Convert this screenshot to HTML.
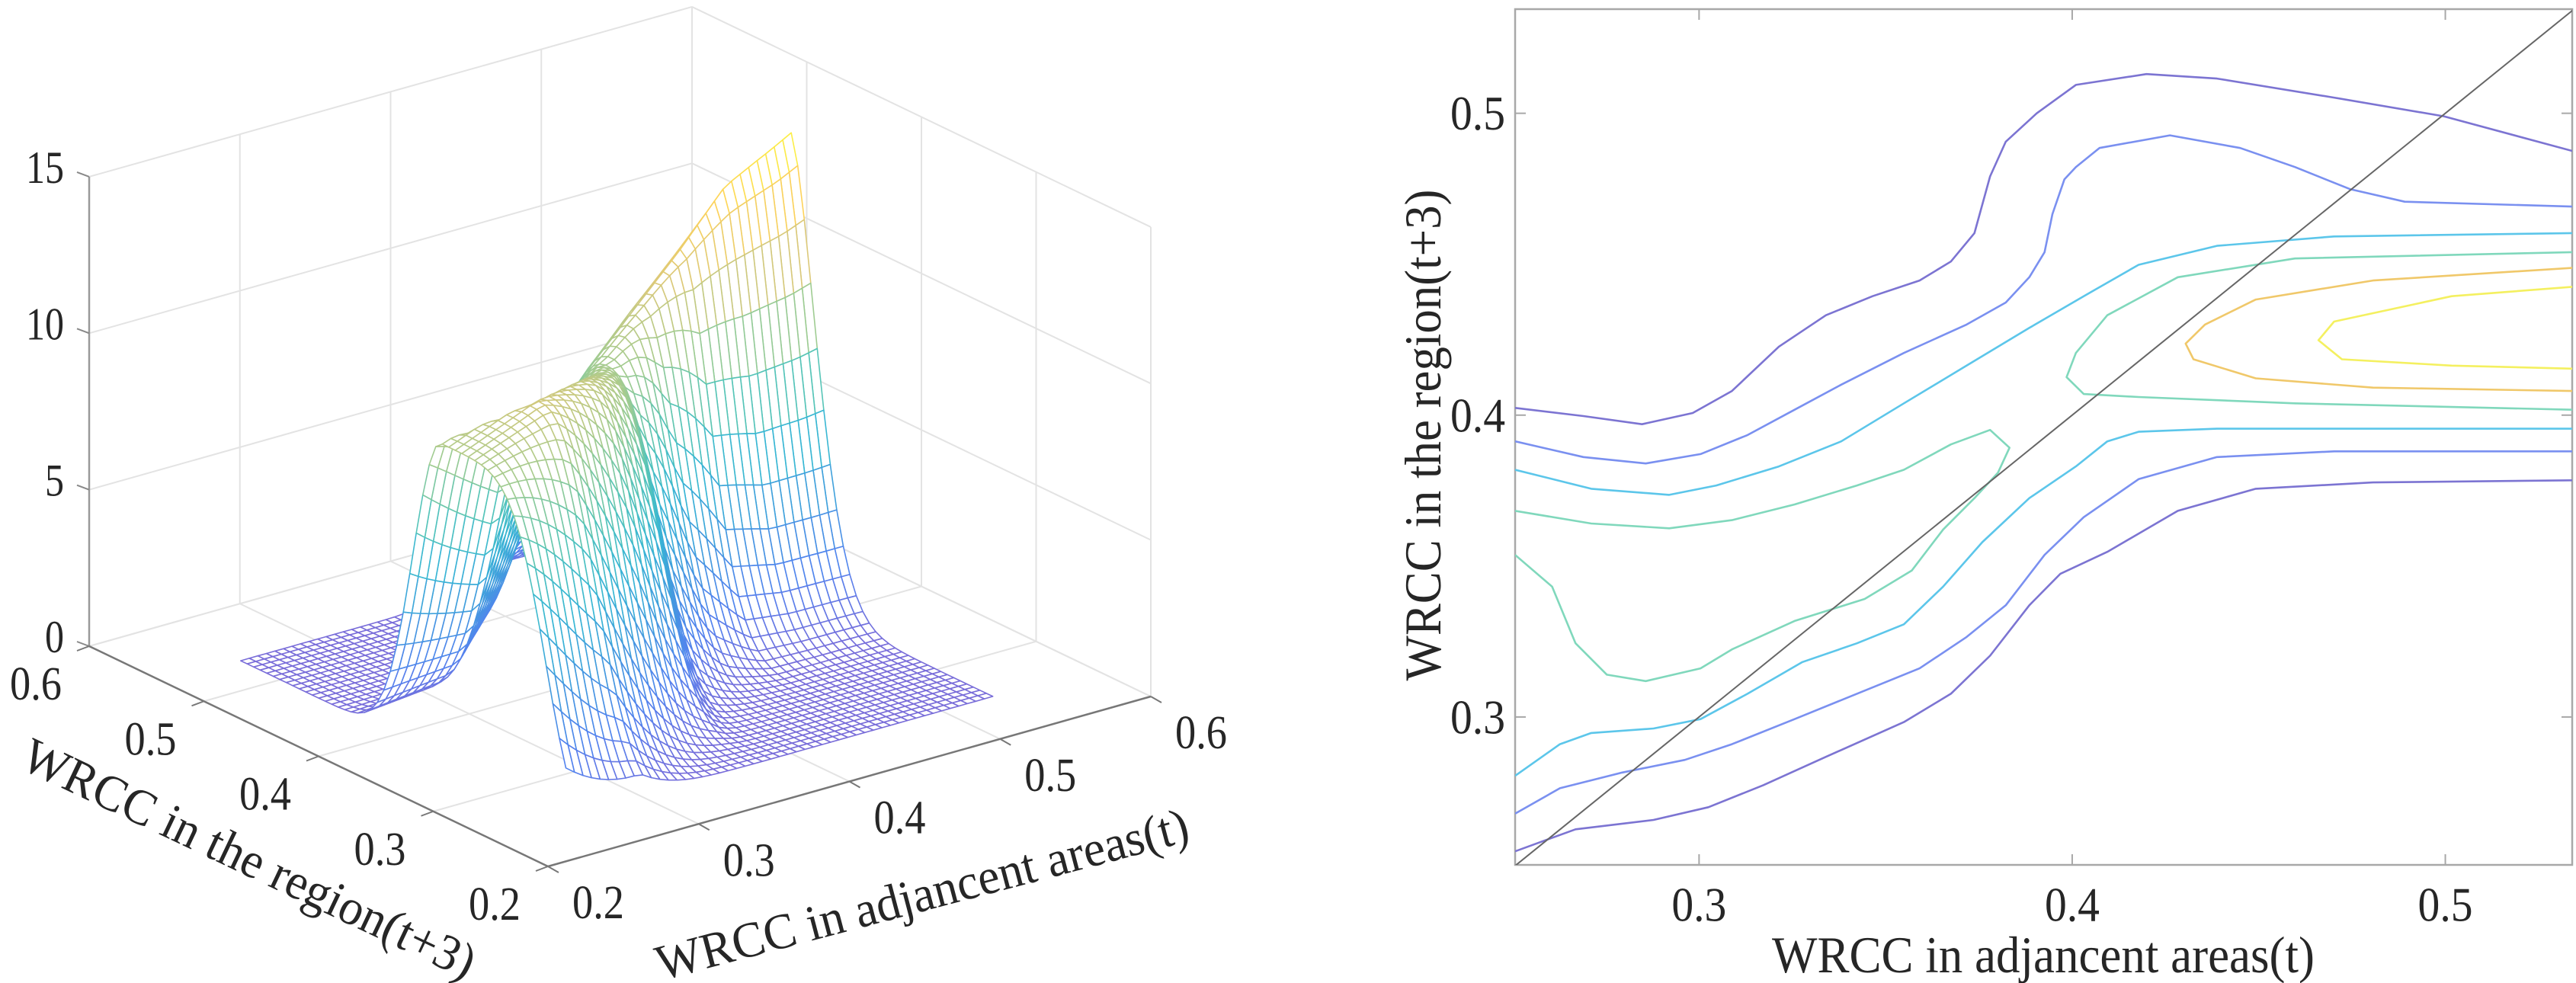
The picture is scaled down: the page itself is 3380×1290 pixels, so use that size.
<!DOCTYPE html>
<html><head><meta charset="utf-8"><style>
html,body{margin:0;padding:0;background:#fff;}
svg{display:block;font-family:"Liberation Serif",serif;}
text{font-family:"Liberation Serif",serif;}
</style></head><body>
<svg id="chart" width="3380" height="1290" viewBox="0 0 3380 1290" xmlns="http://www.w3.org/2000/svg" font-family="Liberation Serif, serif">
<rect x="0" y="0" width="3380" height="1290" fill="#fff"/>
<g id="left3d"></g>
<g id="right2d"></g>
</svg>
<script>
// ---------- 3D surface data (ridge profile per adjacent-area column) ----------
const xNodes      = [0.25, 0.30, 0.35, 0.38, 0.40, 0.43, 0.46, 0.49, 0.52, 0.535];
const ridgeCenter = [0.36, 0.34, 0.363, 0.385, 0.412, 0.422, 0.425, 0.427, 0.428, 0.428];
const ridgePeak   = [10.0, 11.0, 10.6, 10.0, 9.6, 10.8, 12.2, 13.8, 14.6, 15];
const lowWidth    = [0.084, 0.045, 0.041, 0.043, 0.044, 0.0318, 0.0241, 0.0222, 0.0222, 0.022];
const lowPower    = [5, 2.5, 2.5, 2.5, 2.5, 2, 1.8, 1.7, 1.7, 1.7];
const highWidth   = [0.0244, 0.0346, 0.045, 0.0566, 0.052, 0.0449, 0.040, 0.0313, 0.0259, 0.0235];
const highPower   = [2, 2, 2, 2, 2, 1.8, 1.7, 1.6, 1.5, 1.5];
const zTicks = [0, 5, 10, 15];
const xyTicks = [0.2, 0.3, 0.4, 0.5, 0.6];
const xyTickLabels = ["0.2", "0.3", "0.4", "0.5", "0.6"];

// ---------- contour data ----------
const c1UpperX = [0.2507,0.2690,0.2847,0.2983,0.3088,0.3214,0.3340,0.3465,0.3591,0.3675,0.3738,0.3780,0.3822,0.3905,0.4010,0.4199,0.4388,0.4702,0.4996,0.5341];
const c1UpperY = [0.4024,0.3997,0.3970,0.4007,0.4080,0.4227,0.4331,0.4394,0.4446,0.4509,0.4603,0.4791,0.4906,0.5000,0.5094,0.5130,0.5115,0.5052,0.4990,0.4875];
const c2UpperX = [0.2507,0.2690,0.2857,0.3004,0.3130,0.3256,0.3381,0.3549,0.3717,0.3822,0.3885,0.3926,0.3947,0.3979,0.4010,0.4073,0.4262,0.4450,0.4597,0.4744,0.4891,0.5341];
const c2UpperY = [0.3913,0.3861,0.3840,0.3871,0.3934,0.4018,0.4101,0.4206,0.4300,0.4373,0.4457,0.4540,0.4666,0.4781,0.4822,0.4885,0.4927,0.4885,0.4822,0.4749,0.4707,0.4691];
const c3UpperX = [0.2507,0.2711,0.2920,0.3046,0.3214,0.3381,0.3549,0.3717,0.3885,0.4031,0.4178,0.4388,0.4702,0.5341];
const c3UpperY = [0.3819,0.3756,0.3736,0.3767,0.3830,0.3913,0.4039,0.4164,0.4289,0.4394,0.4498,0.4561,0.4592,0.4603];
const c4LeftX  = [0.2507,0.2711,0.2920,0.3088,0.3256,0.3423,0.3549,0.3675,0.3780,0.3832,0.3801,0.3738,0.3654,0.3570,0.3444,0.3256,0.3088,0.3004,0.2857,0.2753,0.2669,0.2606,0.2507];
const c4LeftY  = [0.3683,0.3641,0.3625,0.3652,0.3704,0.3767,0.3819,0.3903,0.3951,0.3892,0.3809,0.3725,0.3621,0.3485,0.3391,0.3318,0.3224,0.3161,0.3119,0.3140,0.3244,0.3432,0.3537];
const c4RightX = [0.5341,0.4597,0.4283,0.4094,0.4010,0.3985,0.4031,0.4178,0.4597,0.5341];
const c4RightY = [0.4540,0.4519,0.4457,0.4331,0.4206,0.4126,0.4070,0.4060,0.4039,0.4018];
const c3LowerX = [0.2507,0.2627,0.2711,0.2878,0.3004,0.3130,0.3277,0.3423,0.3549,0.3654,0.3759,0.3885,0.4010,0.4094,0.4178,0.4388,0.5341];
const c3LowerY = [0.2805,0.2910,0.2947,0.2962,0.2993,0.3077,0.3182,0.3244,0.3307,0.3432,0.3579,0.3725,0.3830,0.3913,0.3945,0.3955,0.3955];
const c2LowerX = [0.2507,0.2627,0.2794,0.2962,0.3088,0.3256,0.3423,0.3591,0.3717,0.3822,0.3926,0.4031,0.4178,0.4388,0.4702,0.5341];
const c2LowerY = [0.2680,0.2764,0.2816,0.2858,0.2910,0.2993,0.3077,0.3161,0.3265,0.3370,0.3537,0.3662,0.3788,0.3861,0.3880,0.3880];
const c1LowerX = [0.2507,0.2669,0.2878,0.3025,0.3172,0.3340,0.3549,0.3675,0.3780,0.3885,0.3968,0.4094,0.4283,0.4492,0.4806,0.5341];
const c1LowerY = [0.2555,0.2628,0.2659,0.2701,0.2774,0.2868,0.2983,0.3077,0.3203,0.3370,0.3474,0.3547,0.3683,0.3756,0.3777,0.3784];
const c5X = [0.5341,0.4806,0.4492,0.4356,0.4304,0.4325,0.4492,0.4806,0.5341];
const c5Y = [0.4488,0.4446,0.4383,0.4300,0.4237,0.4185,0.4122,0.4091,0.4080];
const c6X = [0.5341,0.5017,0.4702,0.4660,0.4723,0.5017,0.5341];
const c6Y = [0.4425,0.4394,0.4310,0.4248,0.4185,0.4164,0.4154];
const cTicks = [0.3, 0.4, 0.5];
const cTickLabels = ["0.3", "0.4", "0.5"];

const NS = "http://www.w3.org/2000/svg";
function mk(tag, parent){ const e=document.createElementNS(NS,tag); parent.appendChild(e); return e; }

const pStops=[[88,72,208],[40,100,235],[20,129,214],[6,164,202],[46,183,164],[135,191,119],[209,187,89],[254,200,50],[249,251,14]];
function parula(t){
  t=Math.max(0,Math.min(1,t)); const f=t*(pStops.length-1); const i=Math.min(pStops.length-2,Math.floor(f)); const u=f-i;
  const c=pStops[i].map((v,k)=>v+(pStops[i+1][k]-v)*u).map(v=>Math.round(v*0.8+255*0.2));
  return "rgb("+c.join(",")+")";
}

// ---------- LEFT 3D ----------
const L=document.getElementById('left3d');
function P(x,y,z){ const xn=(x-0.2)/0.4, yn=(y-0.2)/0.4; return [719+791*xn-602*yn, 1137-223*xn-289*yn-41.07*z]; }
function interp(arr,x){
  if(x<=xNodes[0]) return arr[0];
  for(let i=0;i<xNodes.length-1;i++){ if(x<=xNodes[i+1]){const u=(x-xNodes[i])/(xNodes[i+1]-xNodes[i]); return arr[i]+(arr[i+1]-arr[i])*u;} }
  return arr[arr.length-1];
}
function zAt(x,y){
  const c=interp(ridgeCenter,x), A=interp(ridgePeak,x); const d=y-c;
  const w=d<0?interp(lowWidth,x):interp(highWidth,x); const p=d<0?interp(lowPower,x):interp(highPower,x);
  return A*Math.exp(-0.5*Math.pow(Math.abs(d)/w,p));
}
function line(parent,a,b,stroke,sw){ const l=mk('line',parent); l.setAttribute('x1',a[0]);l.setAttribute('y1',a[1]);l.setAttribute('x2',b[0]);l.setAttribute('y2',b[1]);l.setAttribute('stroke',stroke);l.setAttribute('stroke-width',sw); return l; }
const grid=mk('g',L);


const gc="#e3e3e3";
xyTicks.forEach(t=>{
  let g1=line(grid,P(t,0.2,0),P(t,0.6,0),gc,2);
  
  
  let g2=line(grid,P(0.2,t,0),P(0.6,t,0),gc,2);
  
  
  let g3=line(grid,P(t,0.6,0),P(t,0.6,15),gc,2);
  
  
  let g4=line(grid,P(0.6,t,0),P(0.6,t,15),gc,2);
  
  
});
zTicks.forEach(z=>{
  let g5=line(grid,P(0.2,0.6,z),P(0.6,0.6,z),gc,2);
  
  
  let g6=line(grid,P(0.6,0.6,z),P(0.6,0.2,z),gc,2);
  
  
});
const ax=mk('g',L);


let a1=line(ax,P(0.2,0.6,0),P(0.2,0.6,15),"#999",2.5);


let a2=line(ax,P(0.2,0.6,0),P(0.2,0.2,0),"#777",2.5);


let a3=line(ax,P(0.2,0.2,0),P(0.6,0.2,0),"#777",2.5);


const X0=0.2507,X1=0.534,Y0=0.251,Y1=0.5345,N=50;
const xs=[],ys=[]; for(let i=0;i<=N;i++){xs.push(X0+(X1-X0)*i/N); ys.push(Y0+(Y1-Y0)*i/N);}
const Z=xs.map(x=>ys.map(y=>zAt(x,y)));
const cells=[];
for(let i=0;i<N;i++)for(let j=0;j<N;j++){
  const xn=((xs[i]+xs[i+1])/2-0.2)/0.4, yn=((ys[j]+ys[j+1])/2-0.2)/0.4;
  cells.push([i,j,223*xn+289*yn]);
}
cells.sort((a,b)=>b[2]-a[2]);
const mesh=mk('g',L);


cells.forEach(([i,j])=>{
  const pts=[P(xs[i],ys[j],Z[i][j]),P(xs[i+1],ys[j],Z[i+1][j]),P(xs[i+1],ys[j+1],Z[i+1][j+1]),P(xs[i],ys[j+1],Z[i][j+1])];
  const zm=(Z[i][j]+Z[i+1][j]+Z[i+1][j+1]+Z[i][j+1])/4;
  const pg=mk('polygon',mesh);
  
  
  pg.setAttribute('points',pts.map(p=>p[0].toFixed(1)+","+p[1].toFixed(1)).join(" "));
  pg.setAttribute('fill','#fff');
  pg.setAttribute('stroke',parula(zm/15));
  pg.setAttribute('stroke-width','1.6');
  pg.setAttribute('stroke-linejoin','round');
});
function txt(parent,x,y,s,size,anchor,len){
  const t=mk('text',parent); t.setAttribute('x',x);t.setAttribute('y',y);t.setAttribute('font-size',size);
  t.setAttribute('font-family','Liberation Serif, serif');
  t.setAttribute('text-anchor',anchor||'middle');t.setAttribute('dominant-baseline','central');t.setAttribute('fill','#262626');
  if(len){t.setAttribute('textLength',len);t.setAttribute('lengthAdjust','spacingAndGlyphs');}
  t.textContent=s; return t; }
zTicks.forEach(z=>{
  const p=P(0.2,0.6,z);
  let tk=line(ax,p,[p[0]-16,p[1]-6],"#888",2);
  
  
  let t=txt(ax,84,p[1]-12,String(z),60,'end',z>=10?50:25);
  
  
});
xyTicks.forEach((v,k)=>{
  const py=P(0.2,v,0);
  let tky=line(ax,py,[py[0]-16,py[1]+6],"#777",2);
  
  
  let t1=txt(ax,py[0]-70,py[1]+50,xyTickLabels[k],62,'middle',68);
  
  
  const px=P(v,0.2,0);
  let tkx=line(ax,px,[px[0]+14,px[1]+8],"#777",2);
  
  
  let t2=txt(ax,px[0]+66,px[1]+48,xyTickLabels[k],62,'middle',68);
  
  
});
let yt=txt(ax,0,0,"WRCC in the region(t+3)",66,'middle',650);
yt.setAttribute('transform','translate(327,1127) rotate(25.4)');


let xt=txt(ax,0,0,"WRCC in adjancent areas(t)",66,'middle',720);
xt.setAttribute('transform','translate(1210,1174) rotate(-14.8)');



// ---------- RIGHT contour ----------
const R=document.getElementById('right2d');
const BX0=1988,BX1=3375,BY0=12,BY1=1135;
const VX0=0.2507,VX1=0.534,VY0=0.251,VY1=0.5345;
function sx(v){return BX0+(v-VX0)/(VX1-VX0)*(BX1-BX0);}
function sy(v){return BY0+(VY1-v)/(VY1-VY0)*(BY1-BY0);}
const clip=mk('clipPath',R); clip.setAttribute('id','cclip');
const cr=mk('rect',clip); cr.setAttribute('x',BX0);cr.setAttribute('y',BY0);cr.setAttribute('width',BX1-BX0);cr.setAttribute('height',BY1-BY0);
const box=mk('rect',R);


box.setAttribute('x',BX0);box.setAttribute('y',BY0);box.setAttribute('width',BX1-BX0);box.setAttribute('height',BY1-BY0);
box.setAttribute('fill','none');box.setAttribute('stroke','#a8a8a8');box.setAttribute('stroke-width','2.5');
const cg=mk('g',R); cg.setAttribute('clip-path','url(#cclip)');


const contours=[
 [c1UpperX,c1UpperY,"#7c74d2","contour-level-1-upper"],[c1LowerX,c1LowerY,"#7c74d2","contour-level-1-lower"],
 [c2UpperX,c2UpperY,"#7a90f0","contour-level-2-upper"],[c2LowerX,c2LowerY,"#7a90f0","contour-level-2-lower"],
 [c3UpperX,c3UpperY,"#5cc6ea","contour-level-3-upper"],[c3LowerX,c3LowerY,"#5cc6ea","contour-level-3-lower"],
 [c4LeftX,c4LeftY,"#80d8bc","contour-level-4-left"],[c4RightX,c4RightY,"#80d8bc","contour-level-4-right"],
 [c5X,c5Y,"#f0c86a","contour-level-5"],[c6X,c6Y,"#f4f060","contour-level-6"]];
contours.forEach(([cx,cy,col,name])=>{
  const pl=mk('polyline',cg);
  
  
  pl.setAttribute('points',cx.map((v,i)=>sx(v).toFixed(1)+","+sy(cy[i]).toFixed(1)).join(" "));
  pl.setAttribute('fill','none');pl.setAttribute('stroke',col);pl.setAttribute('stroke-width','2.6');pl.setAttribute('stroke-linejoin','round');
});
const diag=line(cg,[sx(VX0),sy(VX0)],[sx(VY1),sy(VY1)],"#666",2);


cTicks.forEach((v,k)=>{
  let tx=line(R,[sx(v),BY1],[sx(v),BY1-14],"#a8a8a8",2);
  
  
  let tx2=line(R,[sx(v),BY0],[sx(v),BY0+14],"#a8a8a8",2);
  
  
  let ty=line(R,[BX0,sy(v)],[BX0+14,sy(v)],"#a8a8a8",2);
  
  
  let ty2=line(R,[BX1,sy(v)],[BX1-14,sy(v)],"#a8a8a8",2);
  
  
  let lx=txt(R,sx(v),1187,cTickLabels[k],64,'middle',72);
  
  
  let ly=txt(R,1975,sy(v),cTickLabels[k],64,'end',72);
  
  
});
let rxt=txt(R,2681,1253,"WRCC in adjancent areas(t)",68,'middle',712);


let ryt=txt(R,0,0,"WRCC in the region(t+3)",68,'middle',645);
ryt.setAttribute('transform','translate(1867,571) rotate(-90)');


</script>
</body></html>
